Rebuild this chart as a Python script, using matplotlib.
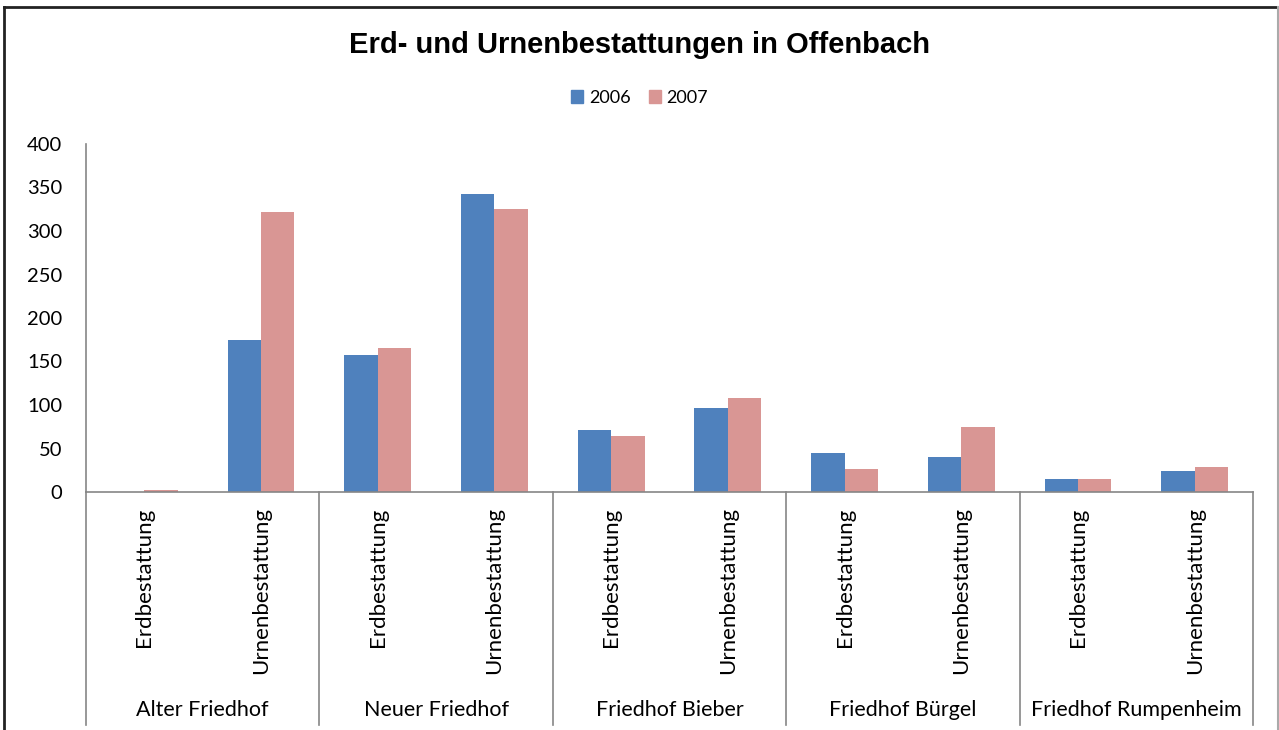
import matplotlib.pyplot as plt
import matplotlib.transforms as mtransforms
from matplotlib.patches import Patch
from matplotlib.lines import Line2D

# Data
friedhoefe = ["Alter Friedhof", "Neuer Friedhof", "Friedhof Bieber",
              "Friedhof Bürgel", "Friedhof Rumpenheim"]
arten = ["Erdbestattung", "Urnenbestattung"]
werte_2006 = [0, 175, 157, 343, 71, 96, 45, 40, 15, 24]
werte_2007 = [2, 322, 165, 325, 64, 108, 26, 75, 15, 29]

blau = "#4F81BD"
rosa = "#D99694"
achse = "#868686"
schrift = "Lato"

W, H = 1279, 730
fig = plt.figure(figsize=(W / 100, H / 100), dpi=100)

# axes placed by pixel box
x0, x1, y_top, y_base = 86, 1253, 144, 492
ax = fig.add_axes([x0 / W, 1 - y_base / H, (x1 - x0) / W, (y_base - y_top) / H])

n = len(werte_2006)
pos = list(range(n))
bw = 0.286
ax.bar([p - bw / 2 for p in pos], werte_2006, width=bw, color=blau, label="2006")
ax.bar([p + bw / 2 for p in pos], werte_2007, width=bw, color=rosa, label="2007")

ax.set_xlim(-0.5, n - 0.5)
ax.set_ylim(0, 400)
ax.set_yticks(range(0, 401, 50))
ax.tick_params(axis="y", length=0, pad=17, labelsize=14.5)
for lab in ax.get_yticklabels():
    lab.set_fontfamily(schrift)

ax.set_xticks(pos)
ax.set_xticklabels(arten * len(friedhoefe), rotation=90, fontsize=16,
                   fontfamily=schrift, va="top", ha="center")
ax.tick_params(axis="x", length=0, pad=11)

for s in ["top", "right"]:
    ax.spines[s].set_visible(False)
for s in ["left", "bottom"]:
    ax.spines[s].set_color(achse)
    ax.spines[s].set_linewidth(1.2)

# group separators and labels under the axis
trans = mtransforms.blended_transform_factory(ax.transData, ax.transAxes)
h_ax = y_base - y_top
unten = -(725 - y_base) / h_ax
for g in range(len(friedhoefe) + 1):
    xs = g * 2 - 0.5
    ax.add_line(Line2D([xs, xs], [0, unten], transform=trans, color=achse,
                       lw=1.2, clip_on=False))
for g, name in enumerate(friedhoefe):
    ax.text(g * 2 + 0.5, -(710 - y_base) / h_ax, name, transform=trans,
            ha="center", va="center", fontsize=15.5, fontfamily=schrift)

fig.text(0.5, 1 - 45 / H, "Erd- und Urnenbestattungen in Offenbach",
         ha="center", va="center", fontsize=21, fontweight="bold",
         fontfamily="Liberation Sans")

handles = [Patch(color=blau, label="2006"), Patch(color=rosa, label="2007")]
fig.legend(handles=handles, loc="center", bbox_to_anchor=(0.5, 1 - 98 / H),
           ncol=2, frameon=False, handlelength=0.7,
           handleheight=0.7, handletextpad=0.3, columnspacing=1.0,
           prop={"family": schrift, "size": 13})

# outer chart frame
fig.add_artist(Line2D([4 / W, 4 / W], [0, 1 - 7 / H], transform=fig.transFigure,
                      color="#222222", lw=2))
fig.add_artist(Line2D([4 / W, 1278 / W], [1 - 7 / H, 1 - 7 / H],
                      transform=fig.transFigure, color="#222222", lw=2))
fig.add_artist(Line2D([1278 / W, 1278 / W], [0, 1 - 7 / H],
                      transform=fig.transFigure, color="#aaaaaa", lw=1.5))

fig.savefig("out.png", dpi=100)
